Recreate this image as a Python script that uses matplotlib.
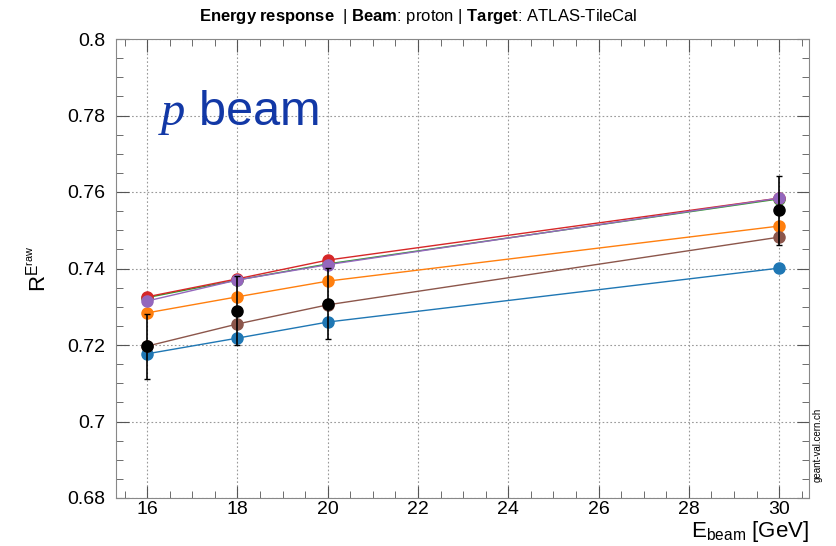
import numpy as np
import matplotlib; matplotlib.use("Agg")
import matplotlib.pyplot as plt
from matplotlib.ticker import MultipleLocator, FuncFormatter

plt.rcParams['font.family'] = ['Liberation Sans', 'DejaVu Sans']
plt.rcParams['mathtext.fontset'] = 'custom'
plt.rcParams['mathtext.rm'] = 'Liberation Sans'
plt.rcParams['mathtext.bf'] = 'Liberation Sans:bold'
plt.rcParams['mathtext.it'] = 'Liberation Serif:italic'

# ---- data ----
energy = [16, 18, 20, 30]
blue   = [0.7177, 0.7218, 0.7260, 0.7401]
orange = [0.7284, 0.7326, 0.7367, 0.7511]
green  = [0.7324, 0.7370, 0.7412, 0.7582]
red    = [0.7326, 0.7373, 0.7422, 0.7584]
purple = [0.7315, 0.7370, 0.7410, 0.7584]
brown  = [0.7197, 0.7255, 0.7305, 0.7482]
data_y   = [0.7197, 0.7290, 0.7308, 0.7552]
data_err = [0.0085, 0.0090, 0.0093, 0.0090]

series = [(blue, "tab:blue"), (orange, "tab:orange"), (green, "tab:green"),
          (red, "tab:red"), (purple, "tab:purple"), (brown, "tab:brown")]

fig = plt.figure(figsize=(8.36, 5.46), dpi=100)
ax = fig.add_axes([116/836, 1-498/546, (809-116)/836, (498-39)/546])

for vals, c in series:
    ax.plot(energy, vals, "-o", color=c, lw=1.0, ms=8, zorder=3)
ax.errorbar(energy, data_y, yerr=data_err, fmt="o", color="black", ms=8,
            elinewidth=1.2, capsize=2, capthick=1, zorder=4)

ax.set_xlim(15.31, 30.66)
ax.set_ylim(0.68, 0.80)
ax.xaxis.set_major_locator(MultipleLocator(2))
ax.xaxis.set_minor_locator(MultipleLocator(0.5))
ax.yaxis.set_major_locator(MultipleLocator(0.02))
ax.yaxis.set_minor_locator(MultipleLocator(0.005))
ax.yaxis.set_major_formatter(FuncFormatter(lambda v, p: ("%.2f" % v).rstrip("0").rstrip(".") if abs(v - 0.7) < 1e-9 or abs(v - 0.8) < 1e-9 else "%.2f" % v))
ax.tick_params(which="both", direction="in", top=True, right=True, labelsize=14, color="#555555")
ax.tick_params(which="major", length=9)
ax.tick_params(axis="y", which="major", pad=8)
ax.tick_params(axis="x", which="major", pad=2)
ax.tick_params(which="minor", length=5)
ax.grid(True, which="major", ls=(0, (1.5, 2)), color="#999999", lw=0.8)
for s in ax.spines.values():
    s.set_color("#888888")

fig.text(809/836, 1-531/546, r"E$_{\mathrm{beam}}$ [GeV]", fontsize=16, ha="right", va="center")
ax.set_ylabel(r"R$^{\mathrm{E}^{\mathrm{raw}}}$", fontsize=16, loc="center", labelpad=12)

fig.text(0.5, 1-17/546, r"$\mathbf{Energy\ response}$  | $\mathbf{Beam}$: proton | $\mathbf{Target}$: ATLAS-TileCal",
         ha="center", va="center", fontsize=12)
ax.text(0.06, 0.84, r"$\it{p}$ beam", transform=ax.transAxes, fontsize=35,
        color="#1238a6", ha="left", va="center")
fig.text(818/836, 1-445/546, "geant-val.cern.ch", rotation=90, fontsize=7,
         ha="center", va="center")

fig.savefig("out.png", dpi=100)
